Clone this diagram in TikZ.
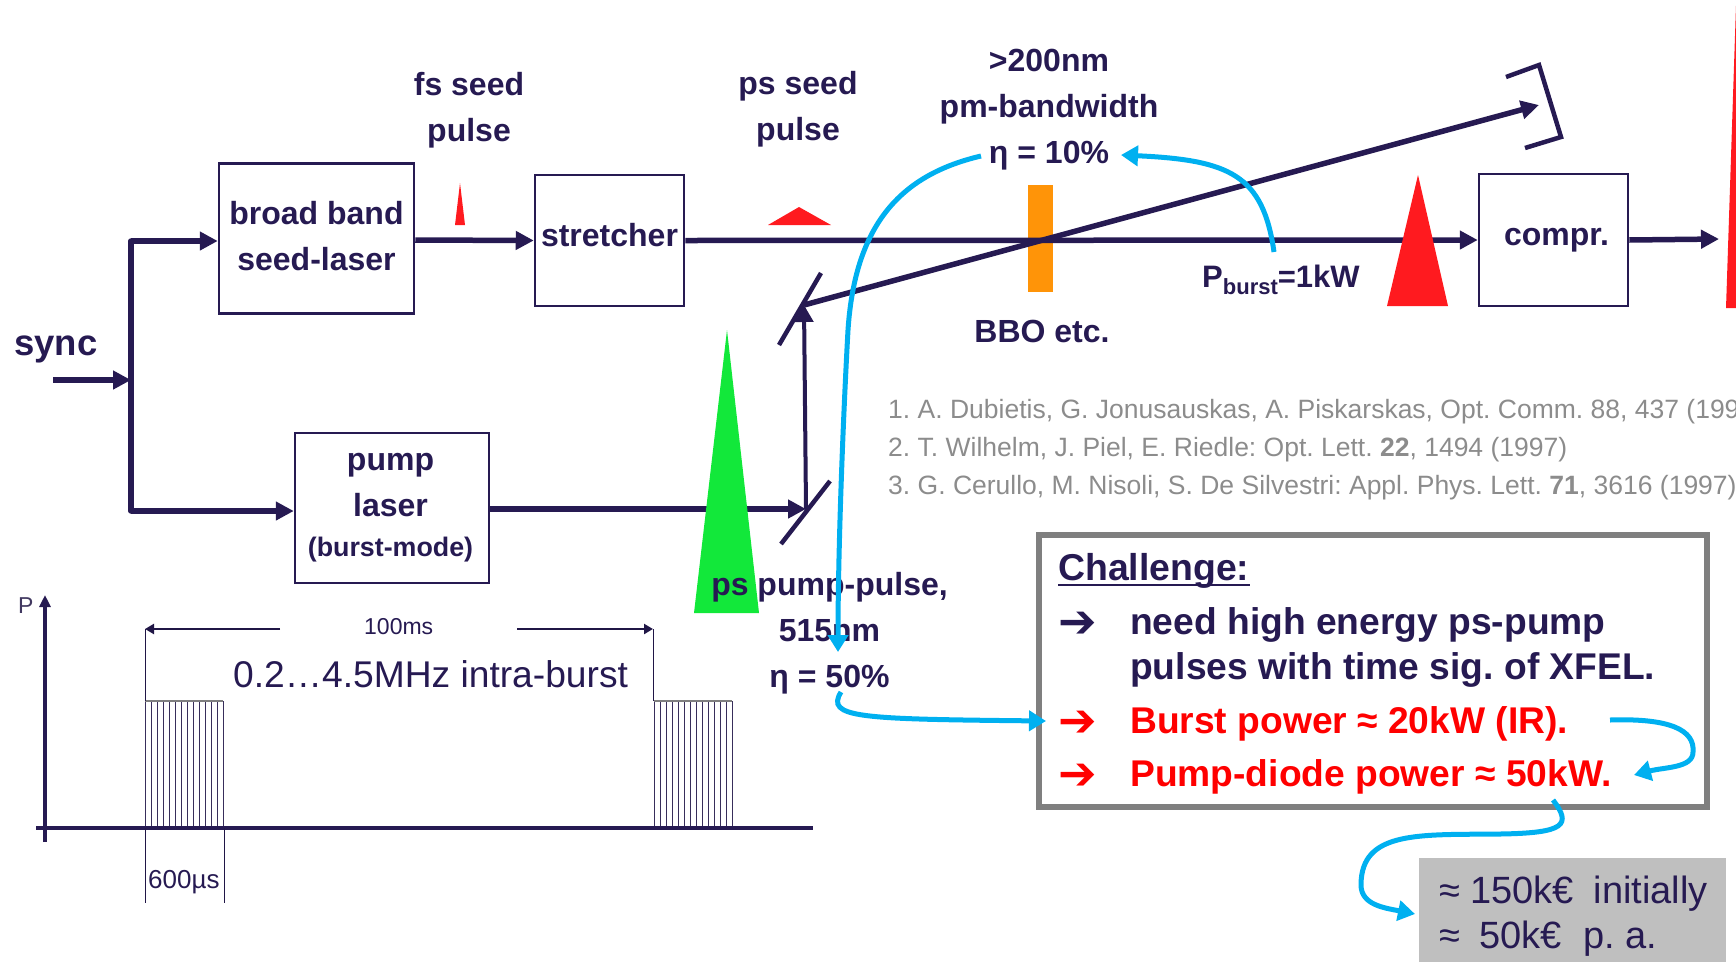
\documentclass[tikz,border=0pt]{standalone}
\usepackage{fontspec}
\setmainfont{Liberation Sans}
\newfontfamily\symfont{DejaVu Sans}
\usetikzlibrary{arrows.meta,positioning,calc}
\definecolor{ink}{HTML}{261A52}
\definecolor{hotred}{HTML}{FF1A1F}
\definecolor{pumpgreen}{HTML}{12E83A}
\definecolor{crystal}{HTML}{FF9408}
\definecolor{skyblue}{HTML}{00B0F0}
\definecolor{framegray}{HTML}{7F7F7F}
\definecolor{costfill}{HTML}{BFBFBF}
\definecolor{reftext}{HTML}{8C8C8C}
\frenchspacing

\begin{document}
\begin{tikzpicture}[
x=1pt, y=-1pt,
every node/.style={text=ink, inner sep=0pt},
unit/.style={draw=ink, line width=2.5pt, align=center, font=\bfseries\fontsize{32}{46}\selectfont},
lbl/.style={align=center, font=\bfseries\fontsize{32}{46}\selectfont},
beam/.style={draw=ink, line width=5.5pt, -{Triangle[length=18pt,width=18pt]}},
thinbeam/.style={draw=ink, line width=4pt, -{Triangle[length=17pt,width=18pt]}},
optic/.style={draw=ink, line width=4.5pt},
feedback/.style={draw=skyblue, line width=5pt, -{Triangle[length=17pt,width=20pt]}},
pulsetxt/.style={font=\fontsize{23}{26}\selectfont, anchor=base west},
reftxt/.style={text=reftext, anchor=base west, font=\fontsize{26.5}{32}\selectfont},
bigtxt/.style={anchor=base west, font=\bfseries\fontsize{37.2}{42}\selectfont},
redtxt/.style={bigtxt, text=red},
bulletmark/.style={anchor=base west, font=\symfont\bfseries\fontsize{46}{50}\selectfont},
costtxt/.style={anchor=base west, font=\fontsize{38}{44}\selectfont},
dimline/.style={draw=ink!85!black, line width=0.9pt},
dimarr/.style={draw=ink!85!black, line width=2.2pt, -{Triangle[length=9pt,width=10pt]}}
]
\useasboundingbox (0,0) rectangle (1736,962);

% laser chain
\node[unit, minimum width=195pt, minimum height=150pt, label={[lbl,yshift=2.5pt]center:broad band\\seed-laser}] (seedlaser) at (316.5,238.5) {};
\node[unit, minimum width=149pt, minimum height=131pt, label={[lbl,yshift=5.5pt]center:stretcher}] (stretcher) at (609.5,240.5) {};
\node[unit, minimum width=149pt, minimum height=132pt, label={[lbl,xshift=3pt]center:compr.}] (compr) at (1553.5,240) {};
\node[unit, minimum width=194pt, minimum height=150pt, label={[lbl,xshift=-1.5pt]center:pump\\laser\\[-6pt]{\fontsize{26.8}{40}\selectfont (burst-mode)}}] (pumplaser) at (392,508) {};

\coordinate (syncin) at (53,380);
\coordinate (syncbus) at (131,380);
\coordinate (bustop) at (131,241);
\coordinate (busbot) at (131,511);
\coordinate (mirrorb) at (806,509);
\coordinate (mirrora) at (804,305);
\coordinate (retro) at (1539,105);
\coordinate (output) at (1719,239);

% beams
\draw[beam] (syncin) -- (syncbus);
\draw[line width=5.5pt, draw=ink, line cap=round] (bustop) -- (busbot);
\draw[beam] (bustop) -- (seedlaser.west |- bustop);
\draw[beam] (busbot) -- (pumplaser.west |- busbot);
\draw[beam] (seedlaser.east |- 0,240) -- (stretcher.west);
\fill[crystal] (1028,185) rectangle (1053,292);
\draw[beam] (stretcher.east) -- (compr.west);
\draw[beam] (compr.east) -- (output);
\draw[beam] (pumplaser.east |- mirrorb) -- (mirrorb);
\draw[thinbeam] (mirrorb) -- (mirrora);
\draw[beam] (mirrora) -- (retro);

% mirrors
\draw[optic] (781,544) -- (830,481);
\draw[optic] (779,345) -- (821,273);
\draw[optic] (1506,77) -- (1539,65) -- (1561,137) -- (1525,148);

% pulses
\fill[hotred] (455,225) -- (460,183) -- (465,225) -- cycle;
\fill[hotred] (768,225) -- (799,207) -- (831,225) -- cycle;
\fill[hotred] (1387,306) -- (1418,175) -- (1448,306) -- cycle;
\fill[hotred] (1726,308) -- (1736,5) -- (1736,308) -- cycle;
\fill[pumpgreen] (694,613) -- (727,330) -- (759,613) -- cycle;

% beam labels
\node[lbl, font=\bfseries\fontsize{36.5}{46}\selectfont] (synctxt) at (56,349) {sync};
\node[lbl] (fsseed) at (469,110) {fs seed\\pulse};
\node[lbl] (psseed) at (798,109.5) {ps seed\\pulse};
\node[lbl] (bandwidth) at (1049,110) {>200nm\\pm-bandwidth\\η = 10\%};
\node[lbl] (bbo) at (1042,331) {BBO etc.};
\node[lbl, anchor=base west, font=\bfseries\fontsize{31}{46}\selectfont] (pburst) at (1202,287) {P\raisebox{-7pt}{\fontsize{22}{23}\selectfont burst}=1kW};
\node[lbl] (pumppulse) at (829.5,633.5) {ps pump-pulse,\\515nm\\η = 50\%};

% references
\node[reftxt] (refa) at (888,418) {1. A. Dubietis, G. Jonusauskas, A. Piskarskas, Opt. Comm. 88, 437 (199};
\node[reftxt] (refb) at (888,456) {2. T. Wilhelm, J. Piel, E. Riedle: Opt. Lett. \textbf{22}, 1494 (1997)};
\node[reftxt] (refc) at (888,494.5) {3. G. Cerullo, M. Nisoli, S. De Silvestri: Appl. Phys. Lett. \textbf{71}, 3616 (1997)};

% burst structure
\coordinate (xstart) at (36,828);
\coordinate (xend) at (813,828);
\coordinate (ybot) at (45,842);
\coordinate (ytop) at (45,595);
\foreach \bstart in {145,654} {
  \foreach \k in {0,...,13} \draw[ink!80!gray, line width=0.8pt] (\bstart+6*\k,701) -- (\bstart+6*\k,828);
  \draw[framegray, line width=1.5pt] (\bstart,701) -- (\bstart+78,701);
}
\draw[draw=ink, line width=4.5pt] (xstart) -- (xend);
\draw[draw=ink, line width=3.5pt, -{Triangle[length=12pt,width=11pt]}] (ybot) -- (ytop);
\node[pulsetxt, text=ink!70!gray] (ptxt) at (18,613) {P};
\coordinate (leftdim) at (145,629);
\coordinate (rightdim) at (653,629);
\node[pulsetxt] (period) at (364,634) {100ms};
\draw[dimarr] (280,629) -- (leftdim);
\draw[dimarr] (517,629) -- (rightdim);
\draw[dimline] (leftdim) -- (145,701);
\draw[dimline] (rightdim) -- (653,701);
\draw[dimline] (145,828) -- (145,903);
\draw[dimline] (224,828) -- (224,903);
\node[pulsetxt, font=\fontsize{26}{30}\selectfont] (burstlen) at (148,888) {600µs};
\node[anchor=base west, font=\fontsize{37.2}{42}\selectfont] (intraburst) at (233,687) {0.2…4.5MHz intra-burst};

% challenge box
\draw[framegray, line width=6pt] (1039,535) rectangle (1707,807);
\node[bigtxt, font=\bfseries\fontsize{37.4}{42}\selectfont] (chall) at (1058,580) {Challenge:};
\draw[ink, line width=2.2pt] ($(chall.base west)+(0,5)$) -- ($(chall.base east)+(0,5)$);
\node[bulletmark] (marka) at (1058,637) {➔};
\node[bigtxt] (needa) at (1130,634) {need high energy ps-pump};
\node[bigtxt] (needb) at (1130,679) {pulses with time sig. of XFEL.};
\node[bulletmark, text=red] (markb) at (1058,736) {➔};
\node[redtxt] (burst) at (1130,733) {Burst power ≈ 20kW (IR).};
\node[bulletmark, text=red] (markc) at (1058,789) {➔};
\node[redtxt] (diode) at (1130,786) {Pump-diode power ≈ 50kW.};

% cost box
\fill[costfill] (1419,858) rectangle (1726,962);
\node[costtxt] (costa) at (1439,903) {≈ 150k€\hspace{9pt} initially};
\node[costtxt] (costb) at (1439,948) {≈\hspace{9pt} 50k€\hspace{11pt} p. a.};

% feedback arrows
\draw[feedback] (981,156) .. controls (900,175) and (855,225) .. (848,330) .. controls (843,420) and (838,550) .. (838,652);
\draw[feedback] (1274,252) .. controls (1263,175) and (1230,160) .. (1121,155);
\draw[feedback] (841,692) .. controls (825,718) and (860,719) .. (1046,721);
\draw[feedback] (1610,720) .. controls (1670,718) and (1695,730) .. (1693,752) .. controls (1693,768) and (1665,767) .. (1634,775);
\draw[feedback] (1553,800) .. controls (1572,825) and (1565,833) .. (1500,834) .. controls (1420,835) and (1361,830) .. (1361,885) .. controls (1361,905) and (1385,908) .. (1415,914);
\end{tikzpicture}
\end{document}
